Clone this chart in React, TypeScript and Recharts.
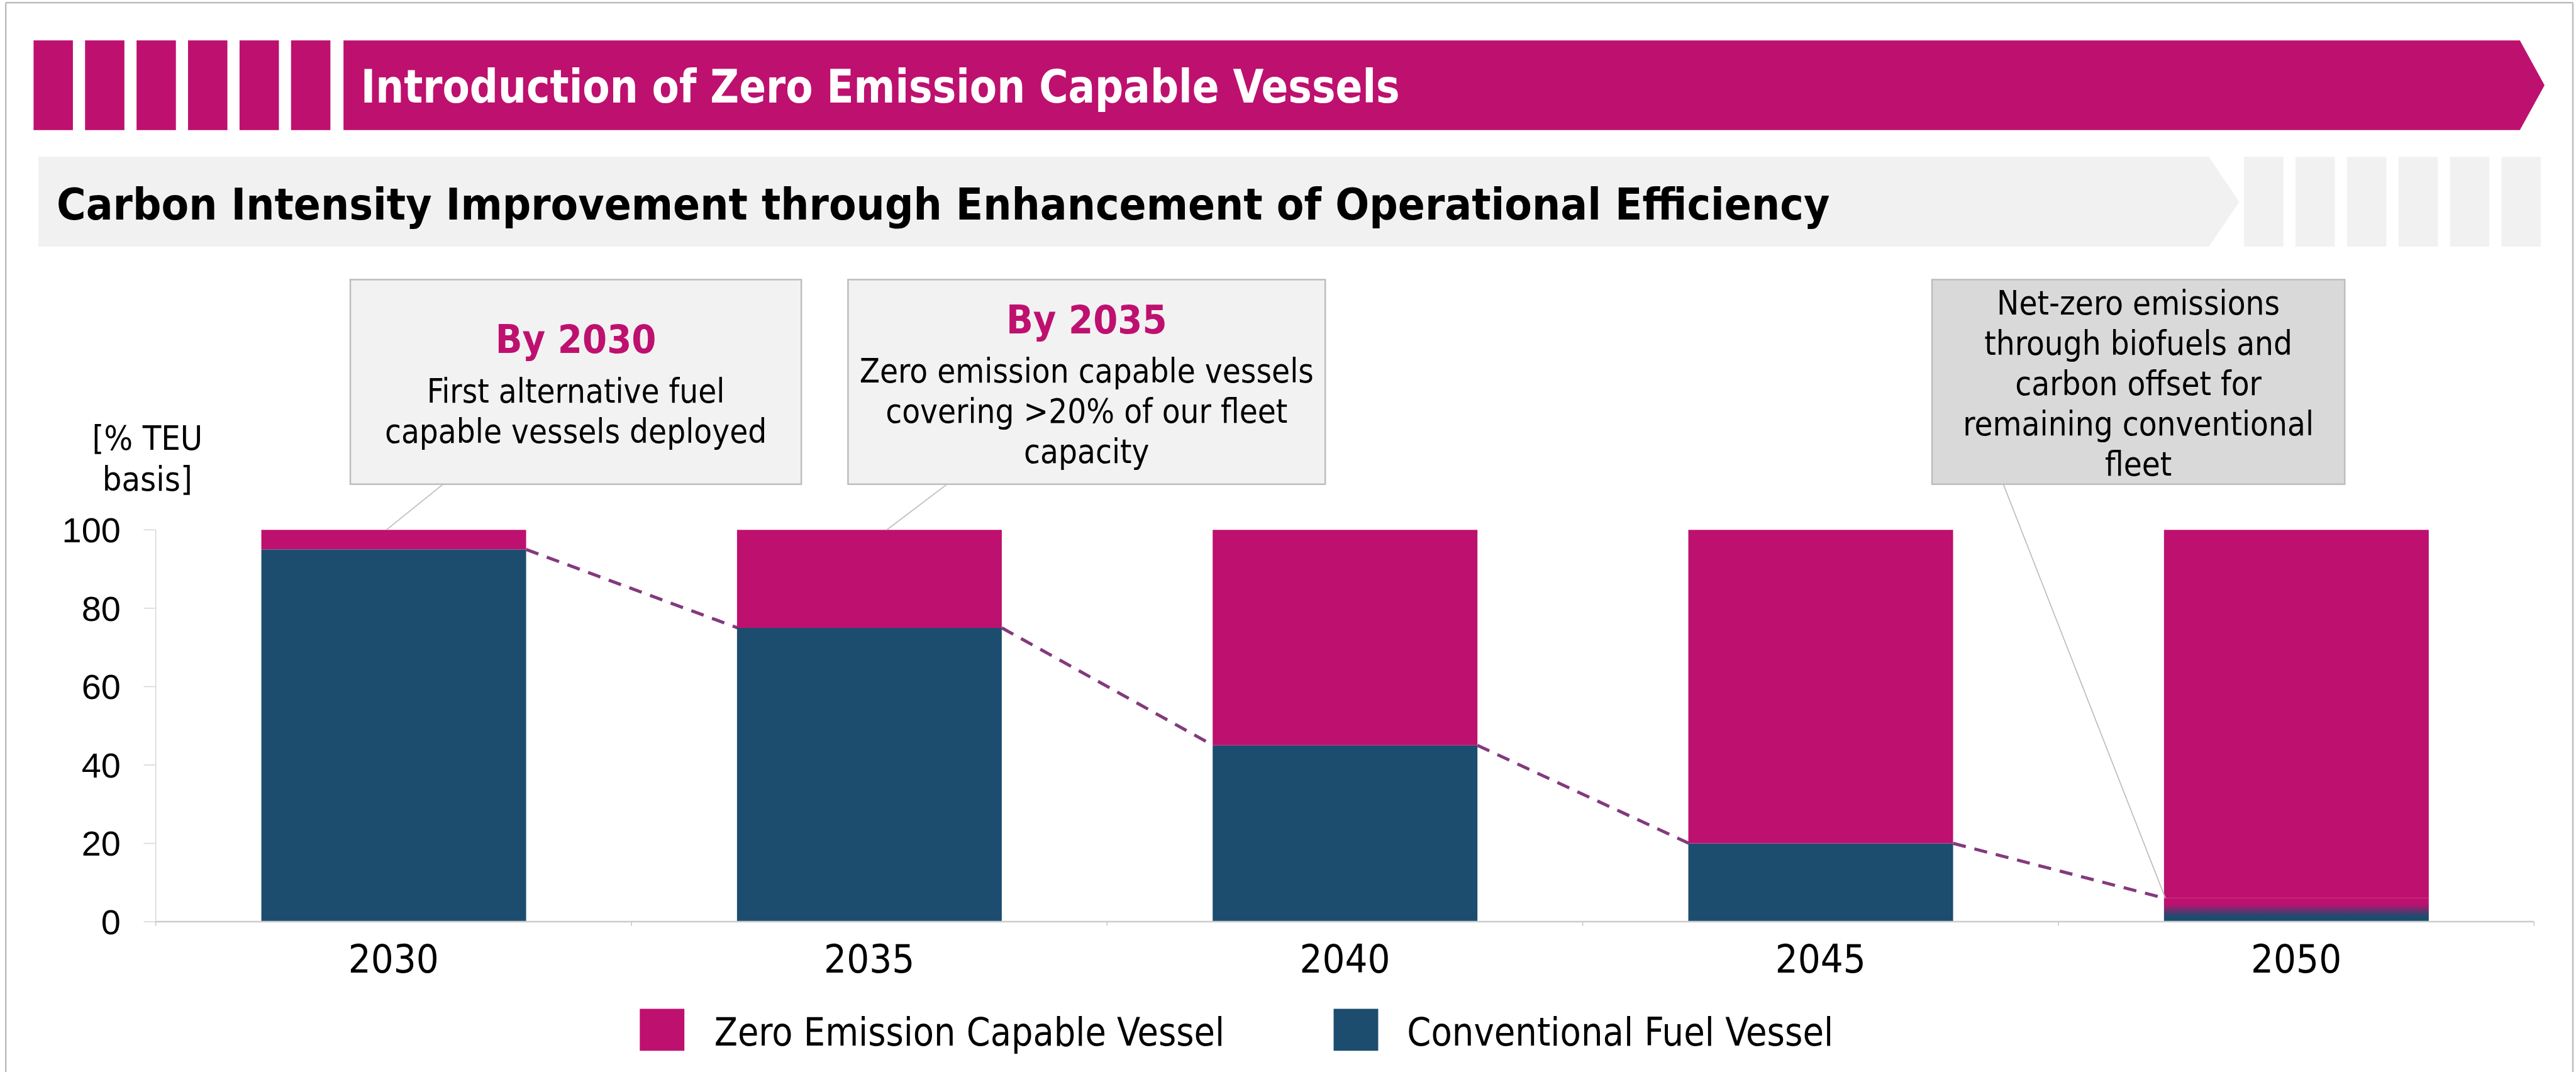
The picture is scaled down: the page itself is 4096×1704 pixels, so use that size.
import React from 'react';
import { BarChart, Bar, XAxis, YAxis } from 'recharts';

// ---------- data ----------
const YEARS = ['2030', '2035', '2040', '2045', '2050'];
const CONVENTIONAL = [95, 75, 45, 20, 6];
const ZERO_EMISSION = [5, 25, 55, 80, 94];
const Y_TICKS = [0, 20, 40, 60, 80, 100];
const SERIES_NAMES = ['Zero Emission Capable Vessel', 'Conventional Fuel Vessel'];
const BANNER_TITLE = 'Introduction of Zero Emission Capable Vessels';
const SUB_TITLE = 'Carbon Intensity Improvement through Enhancement of Operational Efficiency';
const Y_UNIT = ['[% TEU', 'basis]'];
const NOTE_2030_HEAD = 'By 2030';
const NOTE_2030_LINES = ['First alternative fuel', 'capable vessels deployed'];
const NOTE_2035_HEAD = 'By 2035';
const NOTE_2035_LINES = ['Zero emission capable vessels', 'covering >20% of our fleet', 'capacity'];
const NOTE_2050_LINES = ['Net-zero emissions', 'through biofuels and', 'carbon offset for', 'remaining conventional', 'fleet'];

// ---------- style / layout ----------
const W = 4096;
const H = 1704;
const S = W / 4912;
const p = (v: number) => v * S;

const MAGENTA = '#BE106F';
const NAVY = '#1C4D6F';
const DASH = '#833A7D';
const AXIS = '#CBCBCB';
const FRAME = '#BDBDBD';
const TAHOMA = "'DejaVu Sans Condensed', 'DejaVu Sans', sans-serif";
const ARIAL = "'Liberation Sans', Arial, sans-serif";

const PLOT_L = 297;
const PLOT_R = 4832;
const PLOT_T = 1010;
const PLOT_B = 1757;
const GAP = 0.222;
const PITCH = (PLOT_R - PLOT_L) / YEARS.length;

const data = YEARS.map((year, i) => ({ year, conv: CONVENTIONAL[i], zero: ZERO_EMISSION[i] }));

const ConvShape = (props: any) => {
  const { x, y, width, height, index } = props;
  const last = index === YEARS.length - 1;
  let dash: React.ReactNode = null;
  if (!last && height > 0) {
    const unit = height / CONVENTIONAL[index];
    const base = y + height;
    const pitch = width / (1 - 2 * GAP);
    dash = (
      <line
        x1={x + width}
        y1={y}
        x2={x + pitch}
        y2={base - CONVENTIONAL[index + 1] * unit}
        stroke={DASH}
        strokeWidth={p(6)}
        strokeDasharray={`${p(25)} ${p(17)}`}
      />
    );
  }
  return (
    <g>
      <defs>
        <linearGradient id="convFade" x1="0" y1="0" x2="0" y2="1">
          <stop offset="0%" stopColor={MAGENTA} />
          <stop offset="24%" stopColor={MAGENTA} />
          <stop offset="78%" stopColor={NAVY} />
          <stop offset="100%" stopColor={NAVY} />
        </linearGradient>
      </defs>
      <rect x={x} y={y} width={width} height={height} fill={last ? 'url(#convFade)' : NAVY} />
      {dash}
    </g>
  );
};

const XTick = (props: any) => {
  const { x, y, payload, index } = props;
  const half = p(PITCH) / 2;
  const tick = (tx: number, k: string) => (
    <line key={k} x1={tx} y1={y} x2={tx} y2={y + p(8)} stroke={AXIS} strokeWidth={p(2)} />
  );
  return (
    <g>
      {tick(x - half, 'l')}
      {index === YEARS.length - 1 ? tick(x + half, 'r') : null}
      <text x={x} y={y + p(96.5)} textAnchor="middle" fontFamily={TAHOMA} fontSize={p(75.5)} fill="#000">
        {payload.value}
      </text>
    </g>
  );
};

const Note = ({ x1, x2, fill, head, lines, headBase, firstBase }: any) => {
  const cx = p((x1 + x2) / 2);
  return (
    <g>
      <rect x={p(x1)} y={p(533)} width={p(x2 - x1)} height={p(390)} fill={fill} stroke={FRAME} strokeWidth={p(3)} />
      {head ? (
        <text x={cx} y={p(headBase)} textAnchor="middle" fontFamily={TAHOMA} fontWeight="bold" fontSize={p(75)} fill={MAGENTA}>
          {head}
        </text>
      ) : null}
      {lines.map((t: string, i: number) => (
        <text key={i} x={cx} y={p(firstBase + i * 76.7)} textAnchor="middle" fontFamily={TAHOMA} fontSize={p(63)} fill="#000">
          {t}
        </text>
      ))}
    </g>
  );
};

const Overlay = () => {
  const stripes = [0, 1, 2, 3, 4, 5];
  return (
    <svg width={W} height={H} style={{ position: 'absolute', left: 0, top: 0, pointerEvents: 'none' }}>
      {/* frame */}
      <line x1={p(11)} y1={p(5)} x2={p(4906)} y2={p(5)} stroke={FRAME} strokeWidth={p(3)} />
      <line x1={p(11)} y1={p(5)} x2={p(11)} y2={H} stroke={FRAME} strokeWidth={p(3)} />
      <line x1={p(4906)} y1={p(5)} x2={p(4906)} y2={H} stroke={FRAME} strokeWidth={p(3)} />

      {/* magenta banner */}
      {stripes.map((i) => (
        <rect key={'m' + i} x={p(64 + 98.2 * i)} y={p(77)} width={p(75)} height={p(171)} fill={MAGENTA} />
      ))}
      <polygon
        points={[[655, 77], [4805, 77], [4852, 162.5], [4805, 248], [655, 248]].map(([a, b]) => `${p(a)},${p(b)}`).join(' ')}
        fill={MAGENTA}
      />
      <text
        x={p(688)}
        y={p(196)}
        fontFamily={TAHOMA}
        fontWeight="bold"
        fontSize={p(86.5)}
        fill="#fff"
        textLength={p(1981)}
        lengthAdjust="spacingAndGlyphs"
      >
        {BANNER_TITLE}
      </text>

      {/* gray banner */}
      <polygon
        points={[[73, 299], [4212, 299], [4270, 385], [4212, 470], [73, 470]].map(([a, b]) => `${p(a)},${p(b)}`).join(' ')}
        fill="#F1F1F1"
      />
      {stripes.map((i) => (
        <rect key={'g' + i} x={p(4279 + 98.2 * i)} y={p(299)} width={p(75)} height={p(171)} fill="#F1F1F1" />
      ))}
      <text
        x={p(108)}
        y={p(418)}
        fontFamily={TAHOMA}
        fontWeight="bold"
        fontSize={p(84)}
        fill="#000"
        textLength={p(3381)}
        lengthAdjust="spacingAndGlyphs"
      >
        {SUB_TITLE}
      </text>

      {/* notes */}
      <line x1={p(845)} y1={p(923)} x2={p(737)} y2={p(1010)} stroke={FRAME} strokeWidth={p(2)} />
      <line x1={p(1806)} y1={p(923)} x2={p(1691)} y2={p(1010)} stroke={FRAME} strokeWidth={p(2)} />
      <line x1={p(3820)} y1={p(923)} x2={p(4129)} y2={p(1712)} stroke={FRAME} strokeWidth={p(2)} />
      <Note x1={668} x2={1528} fill="#F2F2F2" head={NOTE_2030_HEAD} lines={NOTE_2030_LINES} headBase={673} firstBase={767.5} />
      <Note x1={1617} x2={2527} fill="#F2F2F2" head={NOTE_2035_HEAD} lines={NOTE_2035_LINES} headBase={635} firstBase={729} />
      <Note x1={3684} x2={4471} fill="#D9D9D9" head={null} lines={NOTE_2050_LINES} firstBase={600} />

      {/* y unit */}
      {Y_UNIT.map((t, i) => (
        <text key={t} x={p(281)} y={p(858 + i * 77)} textAnchor="middle" fontFamily={TAHOMA} fontSize={p(64.5)} fill="#000">
          {t}
        </text>
      ))}

      {/* legend */}
      <rect x={p(1220)} y={p(1923)} width={p(85)} height={p(80)} fill={MAGENTA} />
      <text
        x={p(1362)}
        y={p(1993)}
        fontFamily={TAHOMA}
        fontSize={p(75.5)}
        fill="#000"
        textLength={p(973)}
        lengthAdjust="spacingAndGlyphs"
      >
        {SERIES_NAMES[0]}
      </text>
      <rect x={p(2543)} y={p(1923)} width={p(85)} height={p(80)} fill={NAVY} />
      <text
        x={p(2683)}
        y={p(1993)}
        fontFamily={TAHOMA}
        fontSize={p(75.5)}
        fill="#000"
        textLength={p(813)}
        lengthAdjust="spacingAndGlyphs"
      >
        {SERIES_NAMES[1]}
      </text>
    </svg>
  );
};

export default function App() {
  return (
    <div style={{ position: 'absolute', left: 0, top: 0, width: W, height: H, background: '#fff', overflow: 'hidden' }}>
      <BarChart
        width={W}
        height={H}
        data={data}
        margin={{ top: p(PLOT_T), right: W - p(PLOT_R), left: 0, bottom: 0 }}
        barCategoryGap={`${GAP * 100}%`}
      >
        <XAxis
          dataKey="year"
          height={H - p(PLOT_B)}
          axisLine={{ stroke: AXIS, strokeWidth: p(3) }}
          tickLine={false}
          tickSize={0}
          tickMargin={0}
          interval={0}
          tick={<XTick />}
        />
        <YAxis
          domain={[0, 100]}
          ticks={Y_TICKS}
          width={p(PLOT_L)}
          tickSize={p(23)}
          tickMargin={p(44)}
          axisLine={{ stroke: '#D9D9D9', strokeWidth: p(2) }}
          tickLine={{ stroke: '#D9D9D9', strokeWidth: p(2) }}
          tick={{ fill: '#000', fontSize: p(67), fontFamily: ARIAL }}
        />
        <Bar dataKey="conv" name={SERIES_NAMES[1]} stackId="a" fill={NAVY} shape={ConvShape} isAnimationActive={false} />
        <Bar dataKey="zero" name={SERIES_NAMES[0]} stackId="a" fill={MAGENTA} isAnimationActive={false} />
      </BarChart>
      <Overlay />
    </div>
  );
}
